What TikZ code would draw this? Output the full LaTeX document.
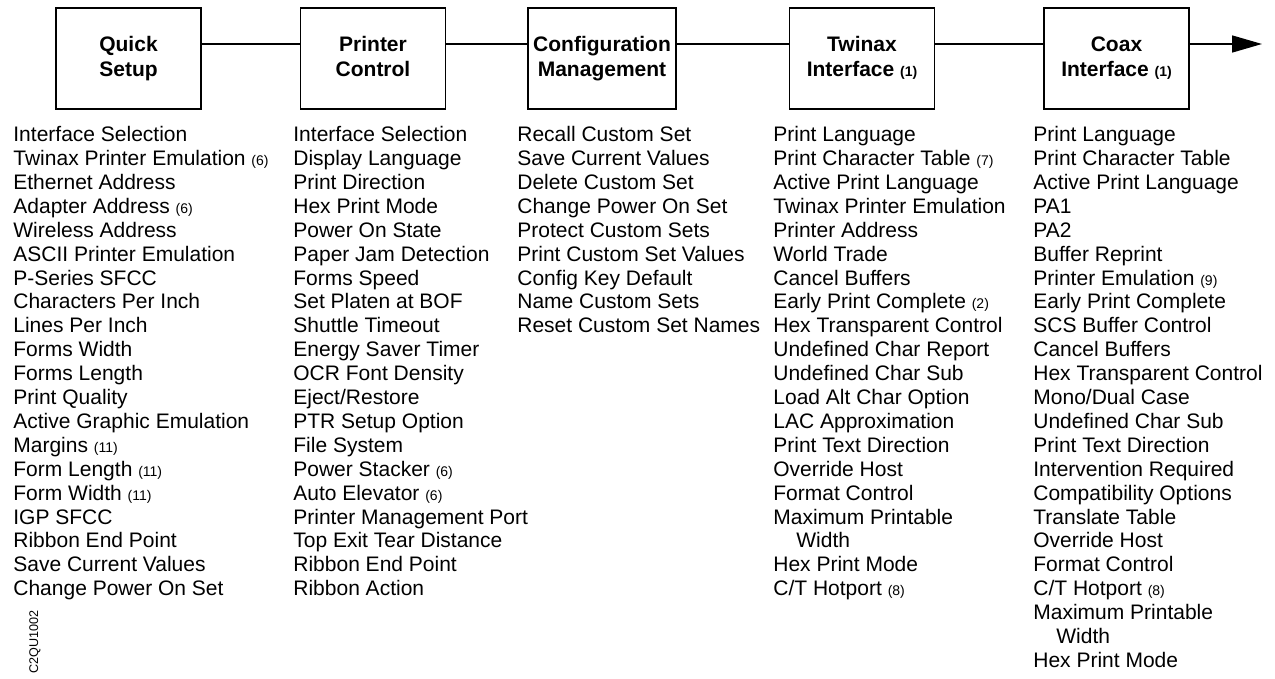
\documentclass[tikz,border=0pt]{standalone}
\usepackage{fontspec}
\setmainfont{Liberation Sans}
\usepackage{tikz}
\usetikzlibrary{arrows.meta}
\tikzset{>={Triangle[width=8.5pt,length=15pt]}}
\newcommand{\FN}[1]{{\fontsize{7}{7}\selectfont(#1)}}
\newcommand{\IND}{\hspace*{11.5pt}}
\newcommand{\EQ}{\vphantom{Qp}}

\begin{document}
\begin{tikzpicture}[x=0.5pt,y=-0.5pt,
  menu/.style={draw, line width=0.75pt, minimum width=72.5pt, minimum height=50.5pt,
    inner sep=0pt, align=center, font=\fontsize{10.5}{12.5}\selectfont\bfseries},
  list/.style={anchor=north west, inner sep=0pt, align=left,
    font=\fontsize{10.5}{11.95}\selectfont},
  link/.style={line width=0.75pt}]

  \useasboundingbox (0,0) rectangle (1275,679); %% page size

  \node[menu] (qs) at (128.5,58.5) {\EQ Quick\\\EQ Setup};
  \node[menu] (pc) at (373,58.5) {\EQ Printer\\\EQ Control};
  \node[menu, minimum width=74pt] (cm) at (602,58.5) {\EQ Configuration\\\EQ Management};
  \node[menu] (ti) at (862,58.5) {\EQ Twinax\\\EQ Interface \FN{1}};
  \node[menu] (ci) at (1116.5,58.5) {\EQ Coax\\\EQ Interface \FN{1}};
  \coordinate (more) at (1262,44);

  \draw[link] ([yshift=7.25pt]qs.east) -- ([yshift=7.25pt]pc.west);
  \draw[link] ([yshift=7.25pt]pc.east) -- ([yshift=7.25pt]cm.west);
  \draw[link] ([yshift=7.25pt]cm.east) -- ([yshift=7.25pt]ti.west);
  \draw[link] ([yshift=7.25pt]ti.east) -- ([yshift=7.25pt]ci.west);
  \draw[link,->] ([yshift=7.25pt]ci.east) -- (more);

  \node[list] (qslist) at (13,126) {Interface Selection\\
    Twinax Printer Emulation \FN{6}\\
    Ethernet Address\\
    Adapter Address \FN{6}\\
    Wireless Address\\
    ASCII Printer Emulation\\
    P-Series SFCC\\
    Characters Per Inch\\
    Lines Per Inch\\
    Forms Width\\
    Forms Length\\
    Print Quality\\
    Active Graphic Emulation\\
    Margins \FN{11}\\
    Form Length \FN{11}\\
    Form Width \FN{11}\\
    IGP SFCC\\
    Ribbon End Point\\
    Save Current Values\\
    Change Power On Set};

  \node[list] (pclist) at (293,126) {Interface Selection\\
    Display Language\\
    Print Direction\\
    Hex Print Mode\\
    Power On State\\
    Paper Jam Detection\\
    Forms Speed\\
    Set Platen at BOF\\
    Shuttle Timeout\\
    Energy Saver Timer\\
    OCR Font Density\\
    Eject/Restore\\
    PTR Setup Option\\
    File System\\
    Power Stacker \FN{6}\\
    Auto Elevator \FN{6}\\
    Printer Management Port\\
    Top Exit Tear Distance\\
    Ribbon End Point\\
    Ribbon Action};

  \node[list] (cmlist) at (517,126) {Recall Custom Set\\
    Save Current Values\\
    Delete Custom Set\\
    Change Power On Set\\
    Protect Custom Sets\\
    Print Custom Set Values\\
    Config Key Default\\
    Name Custom Sets\\
    Reset Custom Set Names};

  \node[list] (tilist) at (773,126) {Print Language\\
    Print Character Table \FN{7}\\
    Active Print Language\\
    Twinax Printer Emulation\\
    Printer Address\\
    World Trade\\
    Cancel Buffers\\
    Early Print Complete \FN{2}\\
    Hex Transparent Control\\
    Undefined Char Report\\
    Undefined Char Sub\\
    Load Alt Char Option\\
    LAC Approximation\\
    Print Text Direction\\
    Override Host\\
    Format Control\\
    Maximum Printable\\
    \IND Width\\
    Hex Print Mode\\
    C/T Hotport \FN{8}};

  \node[list] (cilist) at (1033,126) {Print Language\\
    Print Character Table\\
    Active Print Language\\
    PA1\\
    PA2\\
    Buffer Reprint\\
    Printer Emulation \FN{9}\\
    Early Print Complete\\
    SCS Buffer Control\\
    Cancel Buffers\\
    Hex Transparent Control\\
    Mono/Dual Case\\
    Undefined Char Sub\\
    Print Text Direction\\
    Intervention Required\\
    Compatibility Options\\
    Translate Table\\
    Override Host\\
    Format Control\\
    C/T Hotport \FN{8}\\
    Maximum Printable\\
    \IND Width\\
    Hex Print Mode};

  \node[rotate=90, inner sep=0pt, font=\fontsize{6.3}{6.3}\selectfont] (code) at (35,642) {C2QU1002};

\end{tikzpicture}
\end{document}
